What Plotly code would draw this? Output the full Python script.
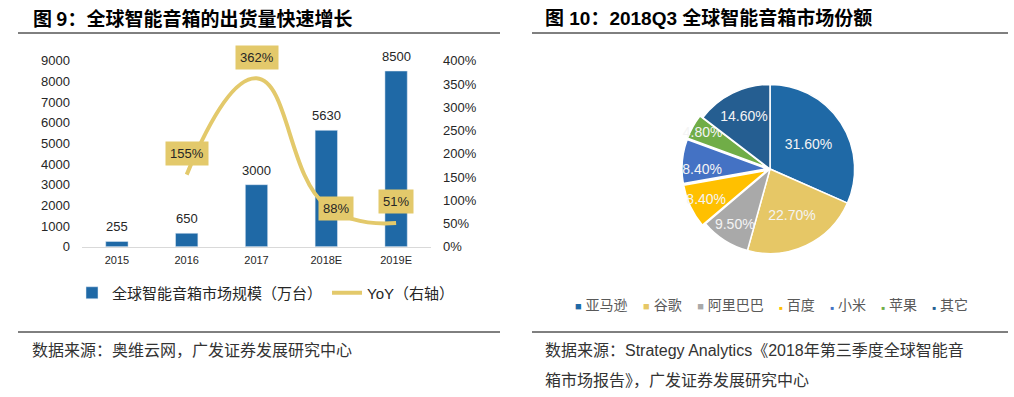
import plotly.graph_objects as go

# ---------------- data ----------------
years = ["2015", "2016", "2017", "2018E", "2019E"]
shipments = [255, 650, 3000, 5630, 8500]          # 万台
yoy_years = ["2016", "2017", "2018E", "2019E"]
yoy = [1.55, 3.62, 0.88, 0.51]

brands = ["亚马逊", "谷歌", "阿里巴巴", "百度", "小米", "苹果", "其它"]
shares = [31.6, 22.7, 9.5, 8.4, 8.4, 4.8, 14.6]

bar_name = "全球智能音箱市场规模（万台）"
line_name = "YoY（右轴）"
left_title = "<b>图 9：全球智能音箱的出货量快速增长</b>"
right_title = "<b>图 10：2018Q3 全球智能音箱市场份额</b>"
left_source = "数据来源：奥维云网，广发证券发展研究中心"
right_source_1 = "数据来源：Strategy Analytics《2018年第三季度全球智能音"
right_source_2 = "箱市场报告》，广发证券发展研究中心"

# ---------------- styles ----------------
W, H = 1014, 397
BLUE = "#1F69A6"
GOLD = "#E3C96B"
pie_colors = ["#1F69A6", "#E6C766", "#A9A9A9", "#FFC000", "#4472C4", "#70AD47", "#255E91"]
pie_pull = [0, 0, 0, 0.04, 0.04, 0.04, 0]
yoy_shift = [(0, 21), (0, 21), (10, -3), (0, 21)]
FONT = "Liberation Sans, Arial, Noto Sans CJK SC"
TXT = "#404040"

def px(x):
    return x / W

def py(y):
    return 1 - y / H

fig = go.Figure()

fig.add_trace(go.Bar(
    x=years, y=shipments, name=bar_name, marker_color=BLUE,
    width=0.32, legend="legend", hoverinfo="x+y"
))
fig.add_trace(go.Scatter(
    x=yoy_years, y=yoy, name=line_name, yaxis="y2", mode="lines",
    line=dict(color=GOLD, width=4, shape="spline", smoothing=1.3),
    legend="legend"
))

fig.add_trace(go.Pie(
    labels=brands, values=shares, sort=False, direction="clockwise", rotation=0,
    marker=dict(colors=pie_colors, line=dict(color="white", width=1.5)),
    pull=pie_pull, texttemplate="%{value:.2f}%", textposition="inside",
    insidetextorientation="horizontal",
    textfont=dict(color="#F4F4F4", size=14, family=FONT),
    domain=dict(x=[px(770 - 88), px(770 + 88)], y=[py(169 + 88), py(169 - 88)]),
    showlegend=False
))

annotations = []
# bar value labels (category index used as position on the category axis)
for c, v in zip(years, shipments):
    annotations.append(dict(x=years.index(c), y=v, xref="x", yref="y", text=str(v),
                            showarrow=False, yanchor="bottom", yshift=5,
                            font=dict(size=13, color="#262626")))
# yoy labels
for (c, v), (dx, dy) in zip(zip(yoy_years, yoy), yoy_shift):
    annotations.append(dict(x=years.index(c), y=v, xref="x", yref="y2", text=f"{round(v*100)}%",
                            showarrow=False, xshift=dx, yshift=dy, bgcolor=GOLD, borderpad=4,
                            font=dict(size=13, color="#262626")))

# titles
annotations.append(dict(x=px(31), y=py(18), xref="paper", yref="paper", text=left_title,
                        showarrow=False, xanchor="left", yanchor="middle",
                        font=dict(size=19, color="#000000", family="Noto Sans CJK SC")))
annotations.append(dict(x=px(543), y=py(18), xref="paper", yref="paper", text=right_title,
                        showarrow=False, xanchor="left", yanchor="middle",
                        font=dict(size=19, color="#000000", family="Liberation Sans, Noto Sans CJK SC")))
# sources
annotations.append(dict(x=px(30), y=py(350), xref="paper", yref="paper", text=left_source,
                        showarrow=False, xanchor="left", yanchor="middle",
                        font=dict(size=16, color="#333333")))
annotations.append(dict(x=px(543), y=py(350), xref="paper", yref="paper", text=right_source_1,
                        showarrow=False, xanchor="left", yanchor="middle",
                        font=dict(size=16, color="#333333")))
annotations.append(dict(x=px(543), y=py(380), xref="paper", yref="paper", text=right_source_2,
                        showarrow=False, xanchor="left", yanchor="middle",
                        font=dict(size=16, color="#333333")))

# pie legend
sq_sizes = [11, 11, 11, 6, 6, 6, 6]
parts = []
for b, col, s in zip(brands, pie_colors, sq_sizes):
    parts.append(f"<span style='color:{col};font-size:{s}px'>■</span> {b}")
annotations.append(dict(x=px(771), y=py(305), xref="paper", yref="paper",
                        text="    ".join(parts), showarrow=False, xanchor="center", yanchor="middle",
                        font=dict(size=14, color="#595959")))

shapes = []
for x0, x1 in [(18, 500), (532, 1008)]:
    for yy in (33, 332):
        shapes.append(dict(type="line", xref="paper", yref="paper", x0=px(x0), x1=px(x1),
                           y0=py(yy), y1=py(yy), line=dict(color="#000000", width=1)))

fig.update_layout(
    width=W, height=H, margin=dict(l=0, r=0, t=0, b=0, autoexpand=False),
    paper_bgcolor="white", plot_bgcolor="white",
    font=dict(family=FONT, color=TXT, size=13),
    xaxis=dict(type="category", categoryorder="array", categoryarray=years,
               range=[-0.5, len(years) - 0.5], automargin=False,
               domain=[px(82), px(431)], showgrid=False, showline=True, linecolor="#D9D9D9",
               linewidth=1, ticks="", tickfont=dict(size=11, color="#262626"),
               ticklabelstandoff=3, fixedrange=True),
    yaxis=dict(domain=[py(246.7), py(60.7)], range=[0, 9000], dtick=1000, showgrid=False,
               automargin=False,
               zeroline=False, showline=False, ticks="", tickfont=dict(size=13, color="#262626"),
               ticklabelstandoff=11),
    yaxis2=dict(overlaying="y", side="right", range=[0, 4], dtick=0.5, tickformat=".0%",
                automargin=False,
                showgrid=False, zeroline=False, showline=False, ticks="",
                tickfont=dict(size=13, color="#262626"), ticklabelstandoff=11),
    legend=dict(orientation="h", x=px(72), y=py(293), xanchor="left", yanchor="middle",
                font=dict(size=15, color="#262626"), bgcolor="rgba(0,0,0,0)"),
    uniformtext=dict(minsize=14, mode="show"),
    annotations=annotations, shapes=shapes,
    bargap=0.6,
)

fig.write_html("out.html", config={"displayModeBar": False},
               post_script="document.body.style.margin='0';")
